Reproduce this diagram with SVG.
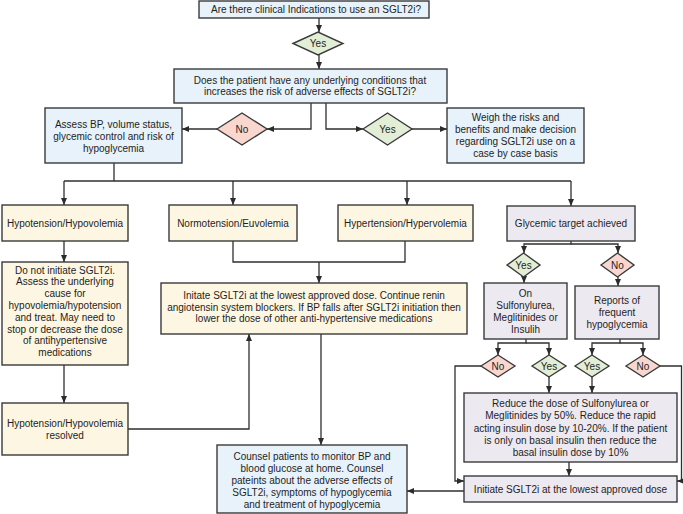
<svg xmlns="http://www.w3.org/2000/svg" width="683" height="514" viewBox="0 0 683 514">
<defs>
<marker id="arr" markerUnits="userSpaceOnUse" markerWidth="7" markerHeight="6" refX="7" refY="3" orient="auto">
<path d="M0,0 L7,3 L0,6 z" fill="#2b2b2b"/>
</marker>
<style>
rect, polygon { stroke:#3a3a3a; stroke-width:1.4; }
.blue { fill:#e7f2fa; }
.yel { fill:#fdf6e2; }
.pur { fill:#ede9f1; }
.grn { fill:#e2efd6; }
.red { fill:#f9d7cf; }
text { font-family:"Liberation Sans", Arial, sans-serif; font-size:10px; fill:#1e1e1e; text-anchor:middle; }
#connectors path { fill:none; stroke:#2f2f2f; stroke-width:1.3; }
.a { marker-end:url(#arr); }
</style>
</defs>
<rect width="683" height="514" fill="#ffffff" style="stroke:none"/>

<g id="connectors">
<path class="a" d="M319,18 V32"/>
<path class="a" d="M319,55 V69"/>
<path class="a" d="M311,103 V129 H267"/>
<path class="a" d="M217,129 H182"/>
<path class="a" d="M326,103 V129 H363"/>
<path class="a" d="M412,129 H447"/>
<path d="M114,163 V181"/>
<path d="M64,181 H571"/>
<path class="a" d="M64,181 V205"/>
<path class="a" d="M233,181 V205"/>
<path class="a" d="M407,181 V205"/>
<path class="a" d="M571,181 V206"/>
<path class="a" d="M64,241 V262"/>
<path class="a" d="M64,365 V403"/>
<path class="a" d="M128,429 H249 V334"/>
<path d="M233,241 V262 H405 V241"/>
<path class="a" d="M319,262 V283"/>
<path class="a" d="M321,334 V445"/>
<path class="a" d="M571,241 V244 H524 V253"/>
<path class="a" d="M571,244 H618 V253"/>
<path class="a" d="M524,277 V283"/>
<path class="a" d="M618,277 V286"/>
<path class="a" d="M526,339 V343 H498 V355"/>
<path class="a" d="M526,343 H549 V355"/>
<path class="a" d="M620,339 V343 H592 V355"/>
<path class="a" d="M620,343 H643 V355"/>
<path class="a" d="M549,377 V393"/>
<path class="a" d="M592,377 V393"/>
<path class="a" d="M481,366 H455 V481 H464"/>
<path class="a" d="M660,366 H681.5 V481 H677"/>
<path class="a" d="M569,462 V476"/>
<path class="a" d="M464,491 H407"/>
</g>

<g id="q1">
<rect class="blue" x="199" y="1" width="230" height="17"/>
<text x="316" y="13">Are there clinical Indications to use an SGLT2i?</text>
</g>
<g id="d-yes1">
<polygon class="grn" points="293,43.5 318,32 343,43.5 318,55"/>
<text x="318" y="47">Yes</text>
</g>
<g id="q2">
<rect class="blue" x="174" y="69" width="273" height="34"/>
<text x="310" y="83.5">Does the patient have any underlying conditions that</text>
<text x="310" y="95">increases the risk of adverse effects of SGLT2i?</text>
</g>
<g id="d-no1">
<polygon class="red" points="217,129 242,113 267,129 242,145"/>
<text x="242" y="132.5">No</text>
</g>
<g id="d-yes2">
<polygon class="grn" points="363,129 387.5,113 412,129 387.5,145"/>
<text x="387.5" y="132.5">Yes</text>
</g>
<g id="assess">
<rect class="blue" x="45" y="108" width="137" height="55"/>
<text x="113.5" y="127.5">Assess BP, volume status,</text>
<text x="113.5" y="139.5">glycemic control and risk of</text>
<text x="113.5" y="151.5">hypoglycemia</text>
</g>
<g id="weigh">
<rect class="blue" x="447" y="108" width="137" height="55"/>
<text x="515.5" y="120.5">Weigh the risks and</text>
<text x="515.5" y="132.5">benefits and make decision</text>
<text x="515.5" y="144.5">regarding SGLT2i use on a</text>
<text x="515.5" y="156.5">case by case basis</text>
</g>
<g id="hypo">
<rect class="yel" x="2" y="205" width="126" height="36"/>
<text x="65" y="226.5">Hypotension/Hypovolemia</text>
</g>
<g id="normo">
<rect class="yel" x="169" y="205" width="128" height="36"/>
<text x="233" y="226.5">Normotension/Euvolemia</text>
</g>
<g id="hyper">
<rect class="yel" x="338" y="205" width="135" height="36"/>
<text x="405.5" y="226.5">Hypertension/Hypervolemia</text>
</g>
<g id="glyc">
<rect class="pur" x="507" y="206" width="128" height="35"/>
<text x="571" y="226.5">Glycemic target achieved</text>
</g>
<g id="donot">
<rect class="yel" x="2" y="262" width="126" height="103"/>
<text x="65" y="273.5">Do not initiate SGLT2i.</text>
<text x="65" y="285.3">Assess the underlying</text>
<text x="65" y="297.1">cause for</text>
<text x="65" y="308.9">hypovolemia/hypotension</text>
<text x="65" y="320.7">and treat. May need to</text>
<text x="65" y="332.5">stop or decrease the dose</text>
<text x="65" y="344.3">of antihypertensive</text>
<text x="65" y="356.1">medications</text>
</g>
<g id="resolved">
<rect class="yel" x="2" y="403" width="126" height="52"/>
<text x="65" y="426.5">Hypotension/Hypovolemia</text>
<text x="65" y="438.5">resolved</text>
</g>
<g id="initate">
<rect class="yel" x="161" y="283" width="306" height="51"/>
<text x="314" y="299">Initate SGLT2i at the lowest approved dose. Continue renin</text>
<text x="314" y="310.5">angiotensin system blockers. If BP falls after SGLT2i initiation then</text>
<text x="314" y="322">lower the dose of other anti-hypertensive medications</text>
</g>
<g id="counsel">
<rect class="blue" x="217" y="445" width="190" height="68"/>
<text x="312" y="459.5">Counsel patients to monitor BP and</text>
<text x="312" y="471.5">blood glucose at home. Counsel</text>
<text x="312" y="483.5">pateints about the adverse effects of</text>
<text x="312" y="495.5">SGLT2i, symptoms of hypoglycemia</text>
<text x="312" y="507.5">and treatment of hypoglycemia</text>
</g>
<g id="d-yes3">
<polygon class="grn" points="507,265 523.5,253 540,265 523.5,277"/>
<text x="523.5" y="268.5">Yes</text>
</g>
<g id="d-no2">
<polygon class="red" points="601,265 617.5,253 634,265 617.5,277"/>
<text x="617.5" y="268.5">No</text>
</g>
<g id="on">
<rect class="pur" x="484" y="283" width="83" height="56"/>
<text x="525.5" y="296.5">On</text>
<text x="525.5" y="308.5">Sulfonylurea,</text>
<text x="525.5" y="320.5">Meglitinides or</text>
<text x="525.5" y="332.5">Insulih</text>
</g>
<g id="reports">
<rect class="pur" x="575" y="286" width="84" height="53"/>
<text x="617" y="303.5">Reports of</text>
<text x="617" y="315.5">frequent</text>
<text x="617" y="327.5">hypoglycemia</text>
</g>
<g id="d-no3">
<polygon class="red" points="481,366 498,355 515,366 498,377"/>
<text x="498" y="369.5">No</text>
</g>
<g id="d-yes4">
<polygon class="grn" points="532,366 549,355 566,366 549,377"/>
<text x="549" y="369.5">Yes</text>
</g>
<g id="d-yes5">
<polygon class="grn" points="575,366 592,355 609,366 592,377"/>
<text x="592" y="369.5">Yes</text>
</g>
<g id="d-no4">
<polygon class="red" points="626,366 643,355 660,366 643,377"/>
<text x="643" y="369.5">No</text>
</g>
<g id="reduce">
<rect class="pur" x="464" y="393" width="213" height="69"/>
<text x="570.5" y="406.5">Reduce the dose of Sulfonylurea or</text>
<text x="570.5" y="419">Meglitinides by 50%. Reduce the rapid</text>
<text x="570.5" y="431.5">acting insulin dose by 10-20%. If the patient</text>
<text x="570.5" y="443.5">is only on basal insulin then reduce the</text>
<text x="570.5" y="455.5">basal insulin dose by 10%</text>
</g>
<g id="initiate">
<rect class="pur" x="464" y="476" width="213" height="26"/>
<text x="570.5" y="492.5">Initiate SGLT2i at the lowest approved dose</text>
</g>
</svg>
